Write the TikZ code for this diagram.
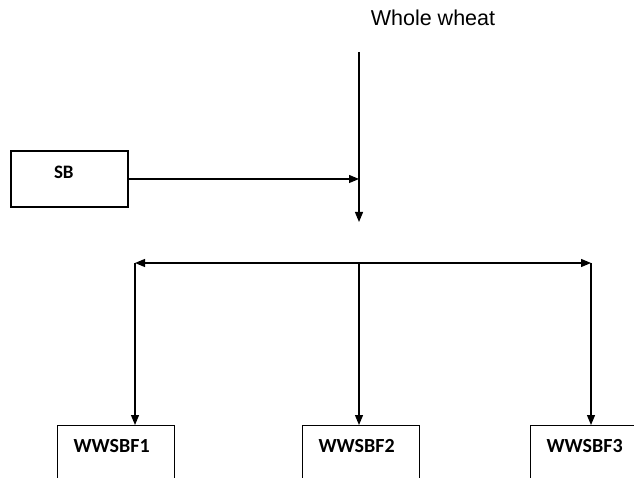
\documentclass[tikz,border=0pt]{standalone}
\usepackage{fontspec}
\setmainfont{Liberation Sans}
\newfontfamily\boxfont{Carlito}
\usetikzlibrary{arrows.meta}

\begin{document}
\begin{tikzpicture}[x=1pt, y=-1pt, >={Triangle[length=10pt,width=8pt]}, line width=1.2pt]
			
			% Styles
			\tikzstyle{block} = [rectangle, draw, minimum width=117pt, minimum height=56pt, text width=31pt, align=left, inner xsep=43pt, text height=10pt, text depth=10pt, font=\boxfont\bfseries\fontsize{19}{21}\selectfont]
			\tikzstyle{product} = [rectangle, draw, anchor=north, minimum width=117pt, minimum height=60pt, text width=85pt, align=left, inner xsep=16pt, text height=10pt, text depth=16pt, font=\boxfont\bfseries\fontsize{20}{22}\selectfont]
			\tikzstyle{arrow} = [->]
			
			\useasboundingbox (0,0) rectangle (634,478);
			\clip (0,0) rectangle (634,478);
			
			% Nodes
			\node[font=\fontsize{21.5}{24}\selectfont] (wheat) at (433,18) {Whole wheat};
			\node[block] (sb) at (69.5,179) {SB};
			\node[product] (wwsbf1) at (116,425) {WWSBF1};
			\node[product] (wwsbf2) at (361,425) {WWSBF2};
			\node[product] (wwsbf3) at (589,425) {WWSBF3};
			
			\coordinate (top) at (359,52);
			\coordinate (mix) at (359,222);
			\coordinate (split) at (359,263);
			\coordinate (left) at (135,263);
			\coordinate (right) at (591,263);
			
			% Arrows (main flow)
			\draw[arrow] (top) -- (mix);
			\draw[arrow] (sb.east) -- (sb.east -| mix);
			\draw[<->] (left) -- (right);
			\draw[arrow] (split) -- (split |- wwsbf2.north);
			\draw[arrow] (left) -- (left |- wwsbf1.north);
			\draw[arrow] (right) -- (right |- wwsbf3.north);
			
		\end{tikzpicture}
\end{document}
